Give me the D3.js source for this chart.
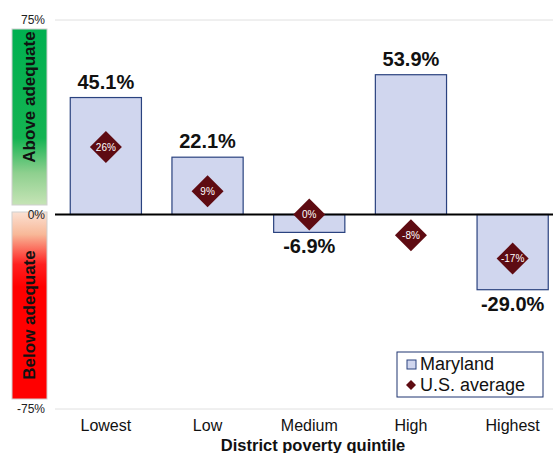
<!DOCTYPE html>
<html>
<head>
<meta charset="utf-8">
<script src="https://cdn.jsdelivr.net/npm/d3@7"></script>
<style>
  body { margin: 0; background: #fff; }
  svg { font-family: "Liberation Sans", Arial, sans-serif; }
</style>
</head>
<body>
<div id="chart"></div>
<script>
// data
const categories = ["Lowest", "Low", "Medium", "High", "Highest"];
const maryland = [45.1, 22.1, -6.9, 53.9, -29.0];
const usAverage = [26, 9, 0, -8, -17];
const yTicks = [75, 0, -75];

const width = 553, height = 453;

const svg = d3.select("#chart").append("svg")
  .attr("width", width)
  .attr("height", height);

const x = d3.scaleBand()
  .domain(categories)
  .range([55, 563.5])
  .paddingInner(0.3)
  .paddingOuter(0.15);

const y = d3.scaleLinear()
  .domain([-75, 75])
  .range([409, 20]);

// gradients for the side bands
const defs = svg.append("defs");
const gGreen = defs.append("linearGradient").attr("id", "gGreen")
  .attr("x1", 0).attr("y1", 0).attr("x2", 0).attr("y2", 1);
gGreen.append("stop").attr("offset", "0%").attr("stop-color", "#00b050");
gGreen.append("stop").attr("offset", "62%").attr("stop-color", "#14b352");
gGreen.append("stop").attr("offset", "82%").attr("stop-color", "#8fd08f");
gGreen.append("stop").attr("offset", "100%").attr("stop-color", "#c6e4b6");

const gRed = defs.append("linearGradient").attr("id", "gRed")
  .attr("x1", 0).attr("y1", 0).attr("x2", 0).attr("y2", 1);
gRed.append("stop").attr("offset", "0%").attr("stop-color", "#fbe1d3");
gRed.append("stop").attr("offset", "12%").attr("stop-color", "#f8b898");
gRed.append("stop").attr("offset", "28%").attr("stop-color", "#ff2020");
gRed.append("stop").attr("offset", "40%").attr("stop-color", "#ff0000");
gRed.append("stop").attr("offset", "100%").attr("stop-color", "#ff0000");

svg.append("rect")
  .attr("x", 12).attr("y", 29)
  .attr("width", 35).attr("height", 176)
  .attr("fill", "url(#gGreen)")
  .attr("stroke", "#cfcfcf").attr("stroke-width", 1);

svg.append("rect")
  .attr("x", 12).attr("y", 212)
  .attr("width", 35).attr("height", 187)
  .attr("fill", "url(#gRed)")
  .attr("stroke", "#cfcfcf").attr("stroke-width", 1);

svg.append("text")
  .attr("transform", "translate(35,97) rotate(-90)")
  .attr("text-anchor", "middle")
  .attr("font-size", 17).attr("font-weight", "bold")
  .attr("fill", "#111")
  .text("Above adequate");

svg.append("text")
  .attr("transform", "translate(35,315) rotate(-90)")
  .attr("text-anchor", "middle")
  .attr("font-size", 17).attr("font-weight", "bold")
  .attr("fill", "#111")
  .text("Below adequate");

// grid lines at +/-75
svg.selectAll(".grid")
  .data([75, -75])
  .enter().append("line")
  .attr("class", "grid")
  .attr("x1", 55).attr("x2", width)
  .attr("y1", d => y(d)).attr("y2", d => y(d))
  .attr("stroke", "#e0e0e0").attr("stroke-width", 1);

// y tick labels
svg.selectAll(".ytick")
  .data(yTicks)
  .enter().append("text")
  .attr("class", "ytick")
  .attr("x", 45)
  .attr("y", d => y(d))
  .attr("dy", "0.35em")
  .attr("text-anchor", "end")
  .attr("font-size", 12)
  .attr("fill", "#222")
  .text(d => d + "%");

// bars
svg.selectAll(".bar")
  .data(maryland)
  .enter().append("rect")
  .attr("class", "bar")
  .attr("x", (d, i) => x(categories[i]))
  .attr("y", d => y(Math.max(0, d)))
  .attr("width", x.bandwidth())
  .attr("height", d => Math.abs(y(d) - y(0)))
  .attr("fill", "#d0d6ee")
  .attr("stroke", "#2a427f")
  .attr("stroke-width", 1.2);

// zero line
svg.append("line")
  .attr("x1", 55).attr("x2", width)
  .attr("y1", y(0)).attr("y2", y(0))
  .attr("stroke", "#000").attr("stroke-width", 2);

// bar value labels
svg.selectAll(".val")
  .data(maryland)
  .enter().append("text")
  .attr("class", "val")
  .attr("x", (d, i) => x(categories[i]) + x.bandwidth() / 2)
  .attr("y", d => d >= 0 ? y(d) - 9 : y(d) + 21)
  .attr("text-anchor", "middle")
  .attr("font-size", 20).attr("font-weight", "bold")
  .attr("fill", "#111")
  .text(d => d.toFixed(1) + "%");

// US average diamonds
const dia = svg.selectAll(".dia")
  .data(usAverage)
  .enter().append("g")
  .attr("class", "dia")
  .attr("transform", (d, i) => "translate(" + (x(categories[i]) + x.bandwidth() / 2) + "," + y(d) + ")");

dia.append("path")
  .attr("d", "M0,-16L16,0L0,16L-16,0Z")
  .attr("fill", "#5e0b12");

dia.append("text")
  .attr("dy", "0.35em")
  .attr("text-anchor", "middle")
  .attr("font-size", 10)
  .attr("fill", "#fff")
  .text(d => d + "%");

// x axis labels
svg.selectAll(".xlab")
  .data(categories)
  .enter().append("text")
  .attr("class", "xlab")
  .attr("x", d => x(d) + x.bandwidth() / 2)
  .attr("y", 431)
  .attr("text-anchor", "middle")
  .attr("font-size", 16)
  .attr("fill", "#111")
  .text(d => d);

svg.append("text")
  .attr("x", 313).attr("y", 451)
  .attr("text-anchor", "middle")
  .attr("font-size", 16.5).attr("font-weight", "bold")
  .attr("fill", "#111")
  .text("District poverty quintile");

// legend
const legend = svg.append("g").attr("transform", "translate(397,352)");
legend.append("rect")
  .attr("width", 146).attr("height", 45)
  .attr("fill", "#fff")
  .attr("stroke", "#1f3570").attr("stroke-width", 1);

legend.append("rect")
  .attr("x", 10).attr("y", 8)
  .attr("width", 9).attr("height", 9)
  .attr("fill", "#d0d6ee").attr("stroke", "#2a427f");
legend.append("text")
  .attr("x", 23).attr("y", 18)
  .attr("font-size", 18).attr("fill", "#111")
  .text("Maryland");

legend.append("path")
  .attr("transform", "translate(14,33)")
  .attr("d", "M0,-5L5,0L0,5L-5,0Z")
  .attr("fill", "#5e0b12");
legend.append("text")
  .attr("x", 23).attr("y", 39)
  .attr("font-size", 18).attr("fill", "#111")
  .text("U.S. average");
</script>
</body>
</html>
